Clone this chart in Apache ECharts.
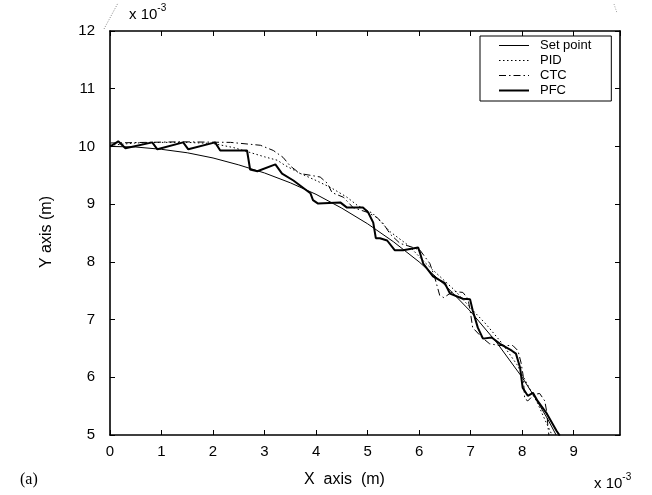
<!DOCTYPE html>
<html><head><meta charset="utf-8">
<script src="https://cdn.jsdelivr.net/npm/echarts@6/dist/echarts.min.js"></script>
<style>html,body{margin:0;padding:0;background:#fff}#c{width:652px;height:495px}</style>
</head><body><div id="c"></div>
<script>
// ---- data (units: x 10^-3 m) ----
const seriesNames = ['Set point', 'PID', 'CTC', 'PFC'];
const xTickLabels = ['0','1','2','3','4','5','6','7','8','9'];
const yTickLabels = ['5','6','7','8','9','10','11','12'];

const setX = [0,0.5,1,1.5,2,2.5,3,3.5,4,4.5,5,5.5,6,6.5,7,7.5,8,8.25,8.5,8.66];
const setY = [10,9.99,9.95,9.89,9.80,9.68,9.54,9.37,9.17,8.93,8.66,8.35,8.0,7.60,7.14,6.61,6.0,5.65,5.27,5.0];

const pidX = [0,0.5,1,1.5,2,2.4,2.7,3.0,3.25,3.4,3.7,4.0,4.3,4.6,4.8,5.1,5.44,5.8,6.1,6.4,6.7,7.0,7.3,7.6,7.9,8.1,8.3,8.45,8.58];
const pidY = [10.02,10.06,10.07,10.07,10.05,9.98,9.90,9.82,9.76,9.67,9.53,9.41,9.28,9.12,8.98,8.84,8.52,8.28,8.0,7.75,7.5,7.2,6.92,6.6,6.22,5.88,5.55,5.25,5.0];

const ctcX = [0.01,1.37,2.34,2.92,3.17,3.36,3.50,3.69,3.89,4.08,4.22,4.31,4.53,4.72,4.99,5.18,5.30,5.44,5.63,5.88,6.02,6.21,6.31,6.40,6.48,6.66,6.85,6.95,6.99,7.04,7.22,7.37,7.57,7.82,7.92,7.98,8.02,8.05,8.11,8.23,8.34,8.44,8.48,8.50,8.52];
const ctcY = [10.06,10.08,10.07,10.02,9.93,9.81,9.66,9.53,9.50,9.47,9.36,9.20,9.12,8.94,8.86,8.77,8.67,8.48,8.32,8.25,8.20,7.97,7.71,7.42,7.38,7.49,7.47,7.36,7.16,6.86,6.69,6.58,6.55,6.55,6.46,6.25,6.03,5.63,5.59,5.70,5.72,5.59,5.39,5.16,4.99];

const pfcX = [0.01,0.16,0.30,0.82,0.92,1.42,1.52,2.04,2.14,2.66,2.72,2.86,3.21,3.34,3.56,3.89,3.94,4.04,4.47,4.60,4.91,5.01,5.11,5.16,5.24,5.38,5.53,5.69,5.98,6.02,6.08,6.27,6.50,6.60,6.85,6.99,7.04,7.14,7.24,7.41,7.57,7.80,7.88,7.96,8.01,8.11,8.21,8.30,8.48,8.67,8.73];
const pfcY = [10.00,10.09,9.97,10.07,9.95,10.07,9.95,10.07,9.93,9.93,9.60,9.57,9.69,9.53,9.41,9.19,9.07,9.01,9.03,8.94,8.94,8.86,8.68,8.41,8.41,8.37,8.20,8.20,8.25,8.15,7.97,7.75,7.63,7.45,7.36,7.35,7.16,6.86,6.67,6.69,6.58,6.46,6.41,6.17,5.82,5.68,5.73,5.59,5.37,5.07,4.99];

function zip(a, b) { return a.map((v, i) => [v, b[i]]); }

const chart = echarts.init(document.getElementById('c'), null, {renderer: 'canvas'});
const FONT = 'Liberation Sans';
const axisCommon = {
  type: 'value',
  axisLine: {show: true, onZero: false, lineStyle: {color: '#000', width: 1.6}},
  axisTick: {show: true, inside: true, length: 5, lineStyle: {color: '#000', width: 1}},
  splitLine: {show: false}
};
const lineStyles = [
  {color: '#000', width: 1, type: 'solid'},
  {color: '#000', width: 1, type: [1.5, 2.5]},
  {color: '#000', width: 1, type: [7, 3, 1.5, 3]},
  {color: '#000', width: 2, type: 'solid'}
];
const dataSets = [zip(setX, setY), zip(pidX, pidY), zip(ctcX, ctcY), zip(pfcX, pfcY)];
const supRich = {
  a: {fontSize: 15, fontFamily: FONT, fill: '#000', verticalAlign: 'bottom'},
  b: {fontSize: 10, fontFamily: FONT, fill: '#000', verticalAlign: 'top', padding: [0, 0, 9, 0]}
};

chart.setOption({
  animation: false,
  backgroundColor: '#fff',
  textStyle: {fontFamily: FONT},
  grid: {left: 110, top: 31, width: 510, height: 404, containLabel: false},
  xAxis: [
    Object.assign({}, axisCommon, {
      position: 'bottom', min: 0, max: 9.9, interval: 1,
      axisLabel: {show: true, color: '#000', fontSize: 15, fontFamily: FONT, margin: 9, showMaxLabel: false,
        formatter: v => (Number.isInteger(v) ? xTickLabels[v] : '')}
    }),
    Object.assign({}, axisCommon, {
      position: 'top', min: 0, max: 9.9, interval: 1, axisLabel: {show: false}
    })
  ],
  yAxis: [
    Object.assign({}, axisCommon, {
      position: 'left', min: 5, max: 12, interval: 1,
      axisLabel: {show: true, color: '#000', fontSize: 15, fontFamily: FONT, margin: 15,
        formatter: v => yTickLabels[Math.round(v) - 5]}
    }),
    Object.assign({}, axisCommon, {
      position: 'right', min: 5, max: 12, interval: 1, axisLabel: {show: false}
    })
  ],
  legend: {
    show: true, orient: 'vertical', left: 480, top: 36,
    data: seriesNames.map((n, i) => ({name: n, lineStyle: {width: lineStyles[i].width, type: lineStyles[i].type, color: '#000'}})),
    backgroundColor: '#fff', borderColor: '#000', borderWidth: 1,
    padding: [3, 20, 4, 18], itemGap: 2, itemWidth: 30, itemHeight: 13,
    itemStyle: {opacity: 0},
    textStyle: {color: '#000', fontSize: 13, fontFamily: FONT, padding: [0, 0, 0, 6]}
  },
  series: seriesNames.map((n, i) => ({
    name: n, type: 'line', data: dataSets[i], xAxisIndex: 0, yAxisIndex: 0,
    showSymbol: false, symbol: 'none', smooth: false, clip: true,
    lineStyle: lineStyles[i], itemStyle: {color: '#000'},
    z: i === 3 ? 3 : 2
  })),
  graphic: [
    {type: 'text', left: 129, top: 3, style: {text: '{a|x 10}{b|-3}', rich: supRich}},
    {type: 'text', left: 594, top: 472, style: {text: '{a|x 10}{b|-3}', rich: supRich}},
    {type: 'text', left: 304, top: 472, style: {text: 'X  axis  (m)', font: '16px "Liberation Sans"', fill: '#000'}},
    {type: 'text', x: 47, y: 232, rotation: Math.PI / 2, style: {text: 'Y axis (m)', font: '16px "Liberation Sans"', fill: '#000', align: 'center', verticalAlign: 'middle'}},
    {type: 'text', left: 20, top: 472, style: {text: '(a)', font: '16px "Liberation Serif"', fill: '#000'}},
    {type: 'line', shape: {x1: 104, y1: 29, x2: 118, y2: 3}, style: {stroke: '#666', lineWidth: 0.8, lineDash: [1, 1.5]}},
    {type: 'line', shape: {x1: 614, y1: 4, x2: 617, y2: 13}, style: {stroke: '#888', lineWidth: 0.8, lineDash: [1, 1.5]}}
  ]
});
</script>
</body></html>
